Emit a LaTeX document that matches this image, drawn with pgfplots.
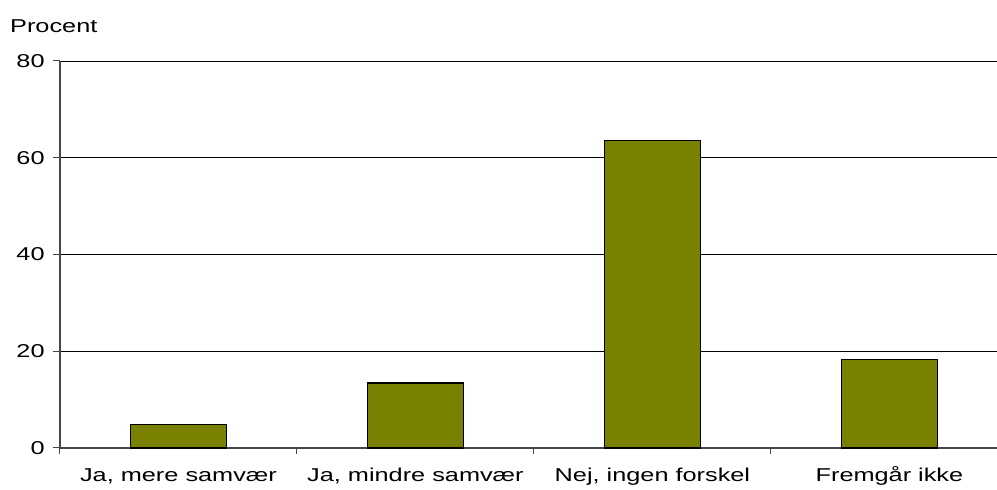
\documentclass[border=0pt]{standalone}
\usepackage{fontspec}
\setmainfont{Liberation Sans}[FakeStretch=1.36]
\usepackage{pgfplots}
\pgfplotsset{compat=1.18}
\definecolor{barolive}{RGB}{122,128,0}
\definecolor{axisgray}{RGB}{70,70,70}
\begin{document}
\fontsize{18.6}{22}\selectfont
\begin{tikzpicture}
\path[use as bounding box] (0,0) rectangle (997pt,490pt);
\node[anchor=base west, inner sep=0pt] at (10pt,457pt) {Procent};
\begin{axis}[
  at={(60pt,42pt)}, anchor=south west,
  scale only axis, width=937pt, height=387pt,
  xmin=-0.5, xmax=3.454, ymin=0, ymax=80,
  axis lines=left, axis line style={-, axisgray, line width=1.2pt},
  ytick={0,20,40,60,80},
  ymajorgrids, major grid style={black, line width=0.8pt},
  xtick={0,1,2,3},
  xticklabels={{Ja, mere samvær}, {Ja, mindre samvær}, {Nej, ingen forskel}, {Fremgår ikke}},
  minor xtick={-0.5,0.5,1.5,2.5},
  tick align=outside,
  major tick length=7pt, minor tick length=6pt,
  x tick style={draw=none},
  minor x tick style={draw=axisgray, line width=1pt},
  y tick style={axisgray, line width=1pt},
  /pgf/number format/assume math mode=true,
  tick label style={font=\fontsize{18.6}{22}\selectfont},
  xticklabel style={text height=14pt, text depth=4pt, yshift=-6pt},
  yticklabel style={xshift=-2pt},
  ybar, bar width=96pt, bar shift=0pt,
  clip=false,
]
\addplot[fill=barolive, draw=black, line width=1.4pt] coordinates {(0,4.9) (1,13.4) (2,63.6) (3,18.3)};
\end{axis}
\end{tikzpicture}
\end{document}
